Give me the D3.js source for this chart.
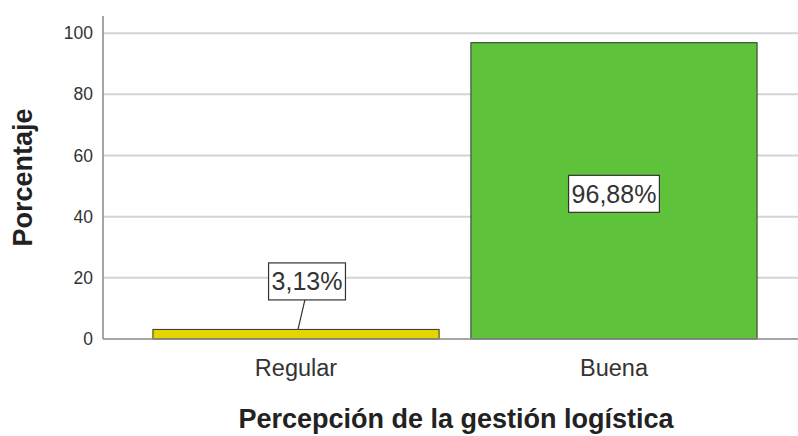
<!DOCTYPE html>
<html>
<head>
<meta charset="utf-8">
<script src="https://cdn.jsdelivr.net/npm/d3@7"></script>
<style>
  body { margin: 0; background: #fff; }
  text { font-family: "Liberation Sans", Arial, sans-serif; }
</style>
</head>
<body>
<div id="chart"></div>
<script>
const categories = ["Regular", "Buena"];
const values = [3.13, 96.88];
const valueLabels = ["3,13%", "96,88%"];
const yTicks = [0, 20, 40, 60, 80, 100];
const colors = ["#e3d500", "#5ec23b"];

const width = 798, height = 436;
const margin = { top: 16, right: 0, bottom: 97, left: 103 };
const innerWidth = width - margin.left - margin.right;
const innerHeight = height - margin.top - margin.bottom;

const svg = d3.select("#chart").append("svg")
  .attr("width", width)
  .attr("height", height);

const g = svg.append("g")
  .attr("transform", "translate(" + margin.left + "," + margin.top + ")");

const x = d3.scaleBand()
  .domain(categories)
  .range([0, innerWidth + 9])
  .paddingInner(0.1)
  .paddingOuter(0.157);

const y = d3.scaleLinear()
  .domain([0, 105.6])
  .range([innerHeight, 0]);

// gridlines
g.selectAll(".grid")
  .data(yTicks.filter(d => d > 0))
  .enter()
  .append("line")
  .attr("x1", 0)
  .attr("x2", innerWidth)
  .attr("y1", d => y(d))
  .attr("y2", d => y(d))
  .attr("stroke", "#d4d4d4")
  .attr("stroke-width", 2);

// y axis
const yAxis = g.append("g")
  .call(d3.axisLeft(y).tickValues(yTicks).tickSize(0).tickPadding(10));
yAxis.select(".domain").remove();
yAxis.selectAll("text")
  .style("font-size", "17.5px")
  .attr("fill", "#333");

g.append("line")
  .attr("x1", 0).attr("x2", 0)
  .attr("y1", 0).attr("y2", innerHeight)
  .attr("stroke", "#888").attr("stroke-width", 1.5);

// bars
g.selectAll(".bar")
  .data(categories)
  .enter()
  .append("rect")
  .attr("x", d => x(d))
  .attr("width", x.bandwidth())
  .attr("y", (d, i) => y(values[i]))
  .attr("height", (d, i) => innerHeight - y(values[i]))
  .attr("fill", (d, i) => colors[i])
  .attr("stroke", "#333")
  .attr("stroke-width", 1);

// x axis line
g.append("line")
  .attr("x1", 0).attr("x2", innerWidth)
  .attr("y1", innerHeight).attr("y2", innerHeight)
  .attr("stroke", "#888").attr("stroke-width", 1.5);

// x tick labels
const xAxis = g.append("g")
  .attr("transform", "translate(0," + innerHeight + ")")
  .call(d3.axisBottom(x).tickSize(0).tickPadding(20));
xAxis.select(".domain").remove();
xAxis.selectAll("text")
  .style("font-size", "23.5px")
  .attr("fill", "#333");

// value labels
categories.forEach((c, i) => {
  const cx = x(c) + x.bandwidth() / 2;
  const top = y(values[i]);
  let lx, ly;
  if (innerHeight - top < 60) {
    lx = cx + 11;
    ly = top - 48;
    g.append("line")
      .attr("x1", lx - 2).attr("y1", ly + 18)
      .attr("x2", cx + 2).attr("y2", top)
      .attr("stroke", "#333").attr("stroke-width", 1.2);
  } else {
    lx = cx;
    ly = y(values[i] / 2) + 3;
  }
  const lbl = g.append("g").attr("transform", "translate(" + lx + "," + ly + ")");
  const t = lbl.append("text")
    .attr("text-anchor", "middle")
    .attr("dy", "0.35em")
    .style("font-size", "25px")
    .attr("fill", "#333")
    .text(valueLabels[i]);
  const bb = t.node().getBBox();
  lbl.insert("rect", "text")
    .attr("x", bb.x - 3)
    .attr("y", -18.5)
    .attr("width", bb.width + 6)
    .attr("height", 37)
    .attr("fill", "#fff")
    .attr("stroke", "#333")
    .attr("stroke-width", 1.2);
});

// axis titles
svg.append("text")
  .attr("transform", "rotate(-90)")
  .attr("x", -(margin.top + innerHeight / 2))
  .attr("y", 32)
  .attr("text-anchor", "middle")
  .style("font-size", "27px")
  .style("font-weight", "bold")
  .attr("fill", "#222")
  .text("Porcentaje");

svg.append("text")
  .attr("x", 456)
  .attr("y", 428)
  .attr("text-anchor", "middle")
  .style("font-size", "27px")
  .style("font-weight", "bold")
  .attr("fill", "#222")
  .text("Percepción de la gestión logística");
</script>
</body>
</html>
